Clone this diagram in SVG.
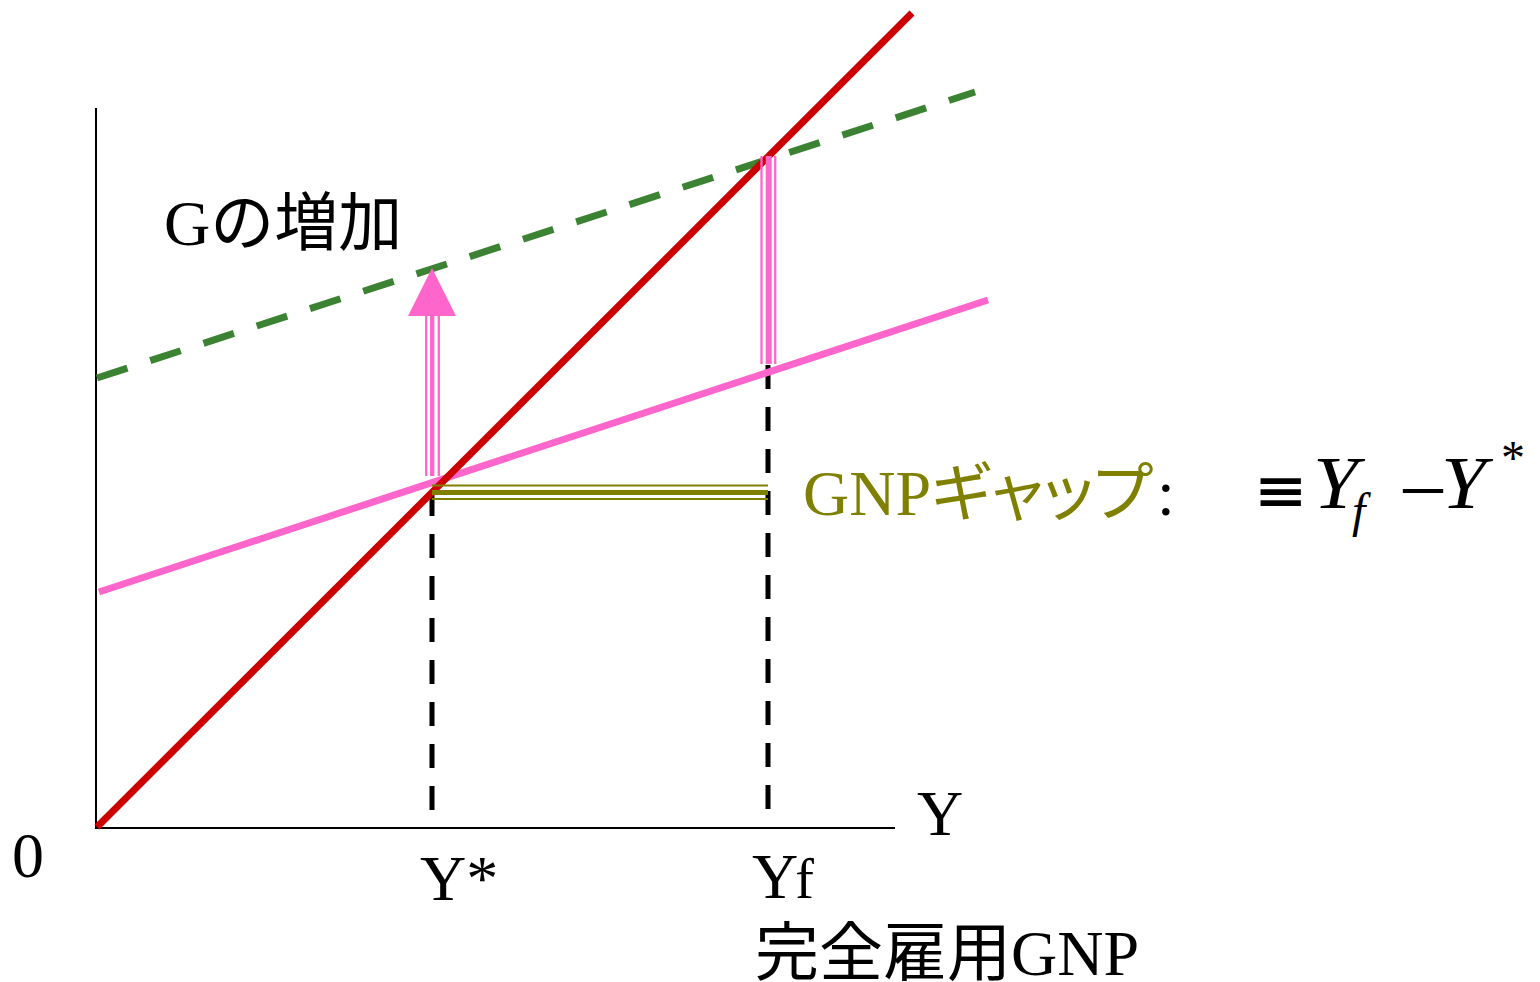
<svg xmlns="http://www.w3.org/2000/svg" width="1540" height="982" viewBox="0 0 1540 982">
<style>
.t{font-family:"Liberation Serif","Noto Sans CJK JP",serif;font-size:64px;fill:#000}
.ol{fill:#808000}
.it{font-family:"Liberation Serif",serif;font-style:italic;fill:#000}
.m{font-family:"Liberation Serif","DejaVu Serif",serif;fill:#000}
.op{font-family:"DejaVu Sans",sans-serif;fill:#000}
.axis{stroke:#000;stroke-width:2;fill:none}
.vd{stroke:#000;stroke-width:5;stroke-dasharray:24 18;fill:none}
.pk{stroke:#FF66CC;fill:none}
.ov{stroke:#808000;fill:none}
</style>
<rect width="1540" height="982" fill="#fff"/>
<g id="axes">
<line class="axis" x1="96" y1="108" x2="96" y2="829"/>
<line class="axis" x1="95" y1="828" x2="895" y2="828"/>
</g>
<g id="connectors">
<line class="vd" x1="432" y1="492" x2="432" y2="828"/>
<line class="vd" x1="768" y1="365" x2="768" y2="828"/>
<line id="pink-line" stroke="#FF66CC" stroke-width="7" x1="99" y1="592" x2="988" y2="300"/>
<line id="green-line" stroke="#3B8232" stroke-width="7" stroke-dasharray="32 24" x1="97" y1="378" x2="975" y2="92"/>
<line id="red-line" stroke="#CC0000" stroke-width="7" x1="97" y1="827" x2="912" y2="13"/>
<g id="g-arrow">
<line class="pk" stroke-width="2.3" x1="426.2" y1="316" x2="426.2" y2="476"/>
<line class="pk" stroke-width="4.3" x1="432.2" y1="316" x2="432.2" y2="476"/>
<line class="pk" stroke-width="2.3" x1="438.8" y1="316" x2="438.8" y2="476"/>
<polygon points="408,316 456,316 432,268" fill="#FF66CC"/>
</g>
<g id="yf-gap">
<line class="pk" stroke-width="2.3" x1="761.5" y1="156" x2="761.5" y2="364"/>
<line class="pk" stroke-width="6" x1="768.7" y1="156" x2="768.7" y2="364"/>
<line class="pk" stroke-width="2.3" x1="775.2" y1="156" x2="775.2" y2="364"/>
</g>
<g id="gnp-gap">
<line class="ov" stroke-width="1.8" x1="432" y1="485.5" x2="768" y2="485.5"/>
<line class="ov" stroke-width="5" x1="432" y1="492.5" x2="768" y2="492.5"/>
<line class="ov" stroke-width="1.8" x1="432" y1="499" x2="768" y2="499"/>
</g>
</g>
<g id="label-origin"><text class="t" x="12" y="877">0</text></g>
<g id="label-y"><text class="t" x="917" y="835">Y</text></g>
<g id="label-ystar"><text class="t" x="420" y="900">Y*</text></g>
<g id="label-yf"><text class="t" x="752" y="898">Y<tspan dx="-3" font-size="56">f</tspan></text></g>
<g id="label-full"><text class="t" x="755" y="975">完全雇用GNP</text></g>
<g id="label-g"><text class="t" x="164" y="245">Gの増加</text></g>
<g id="label-gap"><text class="t ol" x="803" y="515">GNP<tspan style="font-feature-settings:'palt'">ギャップ</tspan></text>
<text class="t" x="1157" y="515" font-size="48">:</text></g>
<g id="formula">
<text class="op" x="1254" y="508" font-size="50" font-weight="bold" textLength="54" lengthAdjust="spacingAndGlyphs">≡</text>
<text class="it" x="1313" y="508" font-size="74" textLength="45" lengthAdjust="spacingAndGlyphs">Y</text>
<text class="it" x="1352" y="527" font-size="48">f</text>
<text class="op" x="1396" y="506" font-size="48" textLength="54" lengthAdjust="spacingAndGlyphs">−</text>
<text class="it" x="1441" y="508" font-size="74" textLength="45" lengthAdjust="spacingAndGlyphs">Y</text>
<text class="m" x="1501" y="474" font-size="48">*</text>
</g>
</svg>
